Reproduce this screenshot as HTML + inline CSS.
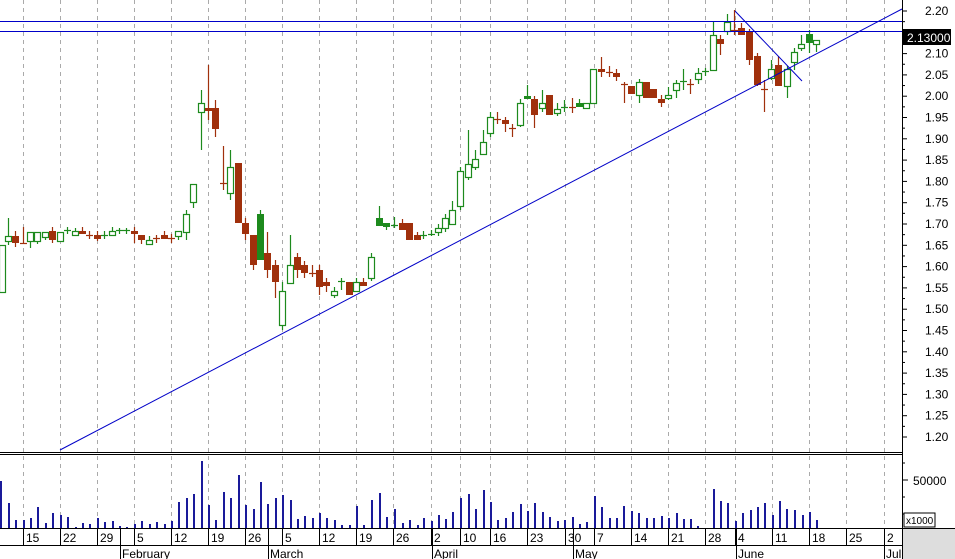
<!DOCTYPE html>
<html><head><meta charset="utf-8"><style>
html,body{margin:0;padding:0;background:#fff;}
svg{display:block;font-family:"Liberation Sans",sans-serif;}
</style></head><body>
<svg id="s" width="955" height="559" xmlns="http://www.w3.org/2000/svg">
<rect x="0" y="0" width="955" height="559" fill="#fff"/>
<g id="grid" stroke="#aaa" stroke-dasharray="4,4" stroke-width="1"></g>
<g id="vol"></g>
<g id="cdl"></g>
<line x1="0" y1="21.5" x2="902" y2="21.5" stroke="#0000c8" stroke-width="1"/>
<line x1="0" y1="31.5" x2="902" y2="31.5" stroke="#0000c8" stroke-width="1"/>
<line x1="60" y1="450" x2="902" y2="9" stroke="#0000c8" stroke-width="1"/>
<line x1="735" y1="11" x2="802" y2="81" stroke="#0000c8" stroke-width="1"/>
<line x1="0" y1="452.5" x2="902" y2="452.5" stroke="#000" stroke-width="1"/>
<line x1="0" y1="454.5" x2="902" y2="454.5" stroke="#000" stroke-width="1"/>
<line x1="0" y1="528.5" x2="955" y2="528.5" stroke="#000"/>
<line x1="0" y1="545.5" x2="902" y2="545.5" stroke="#000"/>
<line x1="902.5" y1="0" x2="902.5" y2="559" stroke="#000"/>
<rect x="903" y="529" width="52" height="30" fill="#ddd"/>
<g id="ax" font-size="12" fill="#000"></g>
<rect x="903" y="29" width="48" height="16" fill="#000"/>
<text x="907" y="42" font-size="12" fill="#fff">2.13000</text>
<text x="913" y="485" font-size="12">50000</text>
<rect x="904" y="513" width="31" height="14" fill="#fff" stroke="#000"/>
<text x="906" y="524" font-size="10">x1000</text>
<g id="dates" font-size="12"></g>
</svg>
<script>
var NS="http://www.w3.org/2000/svg";
function el(p,t,a,txt){var e=document.createElementNS(NS,t);for(var k in a)e.setAttribute(k,a[k]);if(txt!=null)e.textContent=txt;document.getElementById(p).appendChild(e);return e;}
var gx=[23,60,97,134,171,208,245,282,319,356,393,431,460,490,527,565,594,631,668,705,735,772,809,846,884];
var gl=["15","22","29","5","12","19","26","5","12","19","26","2","10","16","23","30","7","14","21","28","4","11","18","25","2"];
gx.forEach(function(x,i){el("grid","line",{x1:x+.5,y1:0,x2:x+.5,y2:528});
el("dates","line",{x1:x+.5,y1:528,x2:x+.5,y2:545,stroke:"#000"});
el("dates","text",{x:x+3,y:542},gl[i]);});
[[120,"February"],[268,"March"],[432,"April"],[573,"May"],[736,"June"],[884,"Jul"]].forEach(function(m){
el("dates","line",{x1:m[0]+.5,y1:528,x2:m[0]+.5,y2:559,stroke:"#000"});
el("dates","text",{x:m[0]+2,y:558},m[1]);});
for(var i=0;i<=20;i++){var p=2.20-i*0.05;var y=11+i*21.3;
el("ax","line",{x1:902,y1:y,x2:907,y2:y,stroke:"#000"});
if(i<20)el("ax","line",{x1:902,y1:y+10.65,x2:905,y2:y+10.65,stroke:"#000"});
if(i!=1)el("ax","text",{x:925,y:y+4},p.toFixed(2));}
[463,480,497,514].forEach(function(y){el("ax","line",{x1:902,y1:y,x2:(y==480?908:905),y2:y,stroke:"#000"});});
var V=[[0,481],[8,503],[15,520],[23,520],[30,518],[37,507],[45,523],[52,513],[60,515],[67,517],[75,527],[82,523],[89,524],[97,518],[104,522],[112,521],[119,526],[126,527],[134,524],[141,521],[149,524],[156,522],[164,524],[171,521],[178,502],[186,498],[193,494],[201,461],[208,505],[215,520],[223,492],[230,498],[238,475],[245,505],[253,509],[260,482],[267,504],[275,498],[282,495],[290,500],[297,519],[304,516],[312,518],[319,513],[326,518],[334,520],[341,525],[349,525],[356,506],[363,525],[371,500],[379,493],[386,517],[394,509],[402,523],[409,520],[417,525],[423,518],[431,521],[438,515],[445,519],[452,512],[460,498],[468,494],[475,509],[483,490],[490,502],[497,520],[505,518],[512,512],[520,504],[527,511],[534,503],[542,512],[549,517],[557,521],[564,520],[572,517],[579,524],[586,522],[594,496],[601,507],[609,518],[616,518],[623,506],[631,511],[638,513],[646,518],[653,518],[661,516],[668,518],[676,513],[683,519],[690,519],[697,526],[713,489],[720,501],[727,503],[735,521],[742,513],[750,510],[757,507],[764,503],[772,515],[779,501],[786,509],[794,510],[802,515],[809,512],[816,520]];
V.forEach(function(v){el("vol","rect",{x:v[0],y:v[1],width:2,height:528-v[1],fill:"#1a1a9a"});});
var C=[[2,245,292,245,292,"h"],[8,218,245,236,241,"h"],[15,231,247,236,243,"r"],[23,227,243,243,243,"x"],[30,232,248,232,241,"h"],[37,232,244,232,241,"h"],[45,232,240,232,237,"h"],[52,227,243,231,240,"r"],[60,232,241,232,241,"h"],[67,227,234,230,230,"c"],[75,228,235,231,235,"h"],[82,227,234,231,234,"r"],[89,231,239,235,235,"x"],[97,231,241,235,239,"r"],[104,231,239,235,235,"c"],[112,227,236,231,235,"h"],[119,228,234,230,230,"c"],[126,228,234,230,230,"c"],[134,227,243,231,234,"r"],[141,235,244,235,240,"r"],[149,236,244,240,244,"h"],[156,235,243,238,238,"x"],[164,231,239,235,239,"r"],[171,234,243,238,238,"x"],[178,231,240,231,236,"h"],[186,210,240,214,232,"h"],[193,184,208,184,202,"h"],[201,90,150,103,112,"h"],[208,65,120,108,110,"r"],[215,100,137,108,129,"r"],[223,146,190,183,183,"x"],[230,150,200,167,193,"h"],[238,163,223,163,223,"r"],[245,218,240,223,234,"r"],[253,235,270,235,265,"r"],[260,210,260,214,260,"g"],[267,232,278,253,270,"r"],[275,260,298,265,282,"r"],[282,282,330,291,325,"h"],[290,235,283,265,283,"h"],[297,253,278,257,270,"r"],[304,261,278,265,273,"r"],[312,265,277,273,273,"x"],[319,265,295,270,287,"r"],[326,278,292,282,286,"r"],[334,287,298,291,295,"h"],[341,278,290,281,281,"c"],[349,282,295,282,295,"r"],[356,278,291,282,291,"h"],[363,278,286,282,286,"r"],[371,253,281,257,278,"h"],[379,206,226,218,226,"g"],[386,223,230,223,227,"g"],[394,217,228,225,225,"c"],[402,219,230,223,230,"r"],[409,223,240,223,240,"r"],[417,232,240,235,240,"r"],[423,231,239,235,235,"c"],[431,230,236,234,234,"c"],[438,224,236,228,232,"h"],[445,214,232,218,228,"h"],[452,201,224,210,224,"h"],[460,167,210,171,206,"h"],[468,130,180,164,177,"h"],[475,150,170,159,167,"h"],[483,130,155,142,154,"h"],[490,112,137,117,133,"h"],[497,112,124,119,119,"x"],[505,117,132,120,124,"r"],[512,124,137,128,128,"x"],[520,99,127,103,125,"h"],[527,85,99,96,99,"g"],[534,96,128,99,115,"r"],[542,90,112,103,108,"h"],[549,95,115,95,115,"r"],[557,103,116,109,113,"h"],[564,100,112,107,107,"c"],[572,98,113,107,107,"x"],[579,99,107,103,107,"g"],[586,103,108,103,108,"h"],[593,69,103,69,103,"h"],[601,57,77,69,72,"r"],[609,66,77,72,72,"x"],[616,69,81,73,77,"r"],[624,82,103,84,84,"x"],[631,86,94,86,94,"r"],[639,79,103,82,95,"h"],[646,82,98,82,98,"r"],[653,89,98,89,98,"r"],[661,95,107,99,103,"r"],[668,87,100,95,98,"h"],[676,80,98,83,90,"h"],[683,69,90,81,81,"c"],[690,79,94,84,84,"x"],[698,68,84,73,79,"h"],[705,68,76,71,71,"c"],[713,22,70,35,70,"h"],[720,35,55,39,44,"r"],[727,14,35,22,31,"h"],[734,10,35,30,30,"x"],[741,23,35,28,35,"r"],[749,29,65,32,60,"r"],[757,53,86,56,85,"r"],[764,80,112,89,89,"x"],[771,60,80,69,78,"h"],[778,56,86,65,86,"r"],[787,66,98,69,86,"h"],[794,48,70,52,62,"h"],[801,35,51,44,48,"h"],[809,30,53,34,43,"g"],[816,40,52,40,44,"h"]];
var G="#1d8a1d",R="#a0300c";
C.forEach(function(c){var x=c[0],t=c[5];var col=(t=="r"||t=="x")?R:G;
el("cdl","line",{x1:x+.5,y1:c[1],x2:x+.5,y2:c[2],stroke:col,"stroke-width":1.2});
if(t=="c"||t=="x"){el("cdl","line",{x1:x-3,y1:c[3]+.5,x2:x+4,y2:c[3]+.5,stroke:col,"stroke-width":1.2});}
else if(t=="h"){el("cdl","rect",{x:x-2.5,y:c[3]+.5,width:6,height:Math.max(c[4]-c[3],2),fill:"#fff",stroke:col,"stroke-width":1.2});}
else{el("cdl","rect",{x:x-3,y:c[3],width:7,height:Math.max(c[4]-c[3],3),fill:col});}
});
</script>
</body></html>
